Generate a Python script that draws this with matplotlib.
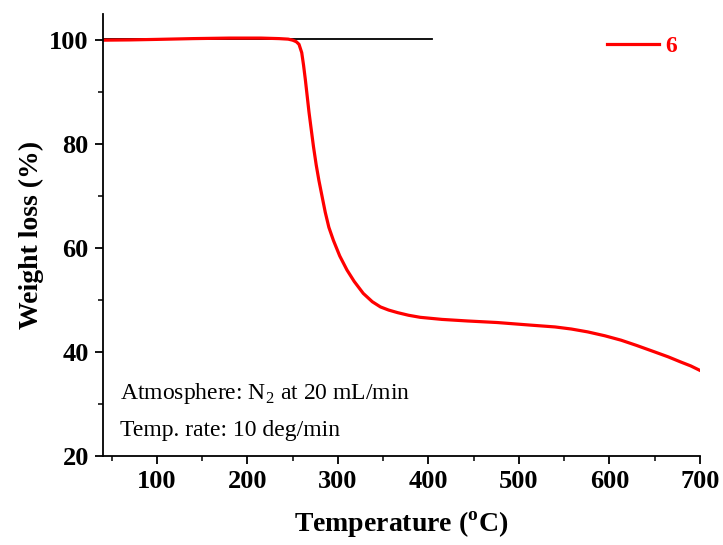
import numpy as np
import matplotlib
matplotlib.use("Agg")
import matplotlib.pyplot as plt
from matplotlib.ticker import MultipleLocator

# === data ===
temp = [40, 70, 100, 140, 180, 215, 235, 245, 250, 254, 257, 260, 262, 264,
        266, 268, 270, 273, 276, 279, 283, 286, 290, 295, 302, 310, 318, 328,
        338, 347, 356, 366, 378, 391, 415, 443, 476, 513, 540, 558, 576, 595,
        613, 630, 650, 665, 679, 690, 700]
weight = [100.0, 100.05, 100.15, 100.3, 100.4, 100.4, 100.3, 100.2, 100.0,
          99.7, 99.2, 97.6, 95.2, 92.4, 89.3, 86.2, 83.5, 79.5, 76.0, 73.0,
          69.5, 66.9, 64.0, 61.5, 58.5, 55.8, 53.6, 51.3, 49.7, 48.7, 48.1,
          47.6, 47.1, 46.7, 46.3, 46.0, 45.7, 45.2, 44.85, 44.45, 43.9, 43.15,
          42.3, 41.3, 40.05, 39.1, 38.1, 37.35, 36.5]
base_x = [40, 404]
base_y = [100.3, 100.3]
series_label = "6"
notes = [r"Atmosphere: N$_2$ at 20 mL/min", "Temp. rate: 10 deg/min"]

plt.rcParams["font.family"] = ["Liberation Serif", "DejaVu Serif"]
plt.rcParams["mathtext.fontset"] = "custom"
plt.rcParams["mathtext.rm"] = "Liberation Serif"
plt.rcParams["mathtext.bf"] = "Liberation Serif:bold"

fig = plt.figure(figsize=(7.23, 5.45), dpi=100)
ax = fig.add_axes([0.142, 0.163, 0.826, 0.811])

ax.plot(base_x, base_y, color="black", lw=1.3, zorder=1)
ax.plot(temp, weight, color="red", lw=2.3, label=series_label, zorder=2,
        solid_joinstyle="round")

ax.set_xlim(40, 700)
ax.set_ylim(20, 105)
ax.xaxis.set_major_locator(MultipleLocator(100))
ax.xaxis.set_minor_locator(MultipleLocator(50))
ax.yaxis.set_major_locator(MultipleLocator(20))
ax.yaxis.set_minor_locator(MultipleLocator(10))

for s in ["top", "right"]:
    ax.spines[s].set_visible(False)
for s in ["left", "bottom"]:
    ax.spines[s].set_linewidth(1.3)

ax.tick_params(which="major", direction="out", length=6, width=1.3,
               labelsize=19, pad=4)
ax.tick_params(which="minor", direction="out", length=3.5, width=1.1)
for lab in ax.get_xticklabels() + ax.get_yticklabels():
    lab.set_fontweight("bold")

ax.set_xlabel(r"Temperature ($^{\mathbf{o}}$C)", fontsize=20, fontweight="bold",
              labelpad=12)
ax.set_ylabel("Weight loss (%)", fontsize=20, fontweight="bold", labelpad=4)

ax.text(0.029, 0.1425, notes[0], transform=ax.transAxes, fontsize=17,
        va="center")
ax.text(0.029, 0.059, notes[1], transform=ax.transAxes, fontsize=17,
        va="center")

leg = ax.legend(loc="upper right", bbox_to_anchor=(0.998, 1.0),
                frameon=False, handlelength=2.2, handletextpad=0.3,
                prop={"weight": "bold", "size": 17})
for t in leg.get_texts():
    t.set_color("red")

fig.savefig("out.png", dpi=100)
